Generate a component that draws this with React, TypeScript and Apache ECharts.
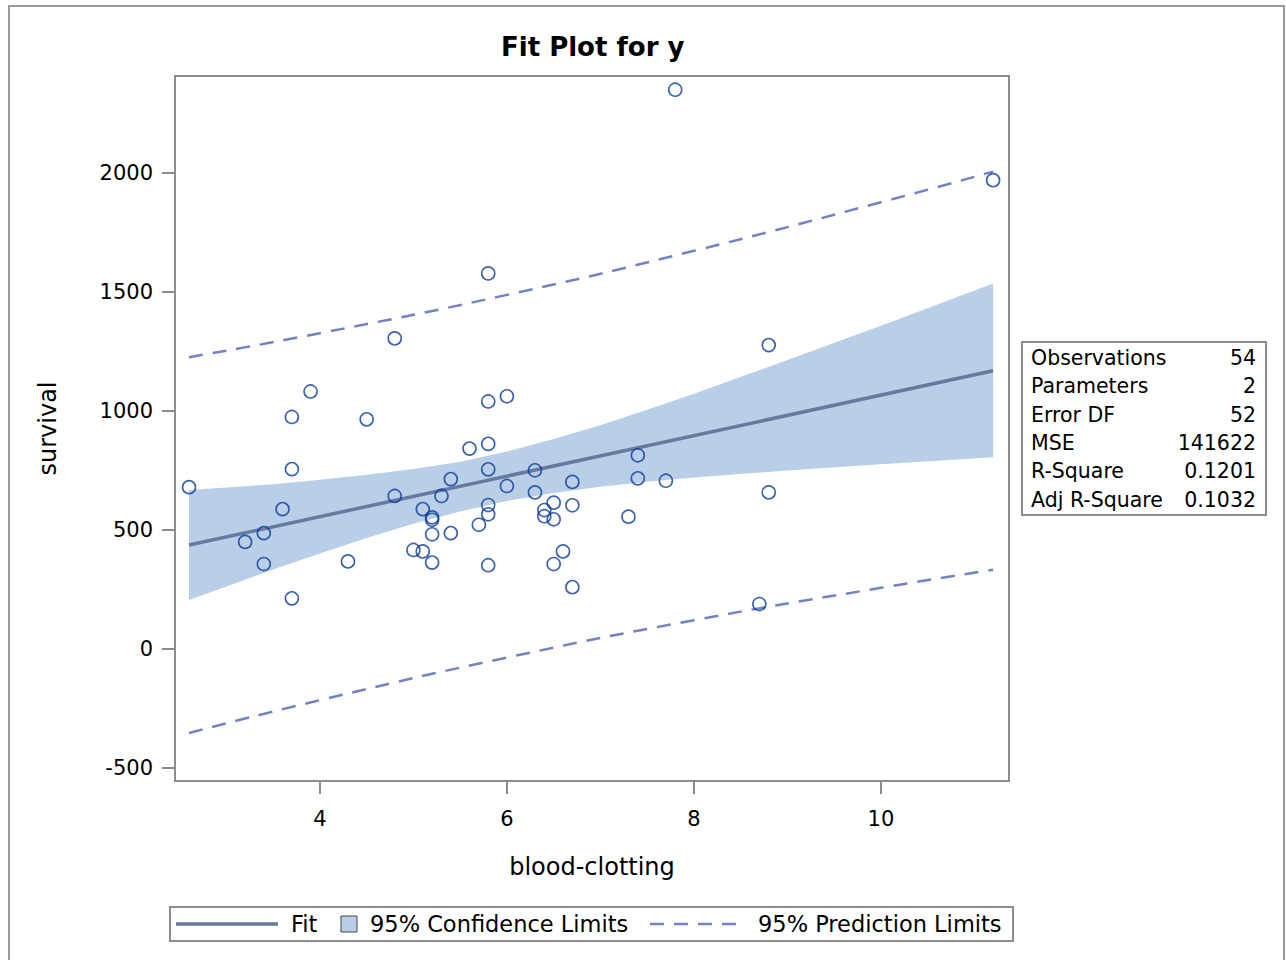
import React, { useEffect, useRef } from "react";
import * as echarts from "echarts";

// Observations (blood-clotting score, survival time)
const clotting = [
  2.6, 3.2, 3.4, 3.4, 3.6, 3.7, 3.7, 3.7, 3.9, 4.3, 4.5, 4.8, 4.8, 5.0, 5.1, 5.1, 5.2, 5.2,
  5.2, 5.2, 5.3, 5.4, 5.4, 5.6, 5.7, 5.8, 5.8, 5.8, 5.8, 5.8, 5.8, 5.8, 6.0, 6.0, 6.3, 6.3,
  6.4, 6.4, 6.5, 6.5, 6.5, 6.6, 6.7, 6.7, 6.7, 7.3, 7.4, 7.4, 7.7, 7.8, 8.7, 8.8, 8.8, 11.2,
];
const survival = [
  680, 450, 487, 357, 588, 975, 756, 213, 1082, 368, 965, 1305, 643, 416, 588, 410, 553, 543,
  482, 363, 643, 487, 714, 842, 522, 1578, 1040, 862, 755, 605, 566, 352, 1062, 685, 751, 658,
  584, 558, 615, 545, 357, 410, 702, 604, 260, 556, 814, 717, 707, 2350, 189, 1277, 658, 1970,
];

// Fit line end points
const fitX = [2.6, 11.2];
const fitY = [437, 1169];

// 95% confidence band
const bandX = [2.6, 3, 3.5, 4, 4.5, 5, 5.5, 6, 6.5, 7, 7.5, 8, 9, 10, 11.2];
const clLower = [206, 263, 334, 401, 466, 526, 578, 622, 656, 682, 703, 721, 750, 776, 806];
const clUpper = [668, 679, 692, 711, 732, 756, 787, 830, 882, 940, 1005, 1073, 1214, 1358, 1536];

// 95% prediction limits
const plX = [2.6, 4, 6, 8, 10, 11.2];
const plLower = [-353, -215, -36, 121, 257, 333];
const plUpper = [1226, 1327, 1488, 1673, 1877, 2006];

const xTicks = [4, 6, 8, 10];
const yTicks = [-500, 0, 500, 1000, 1500, 2000];

const statLabels = ["Observations", "Parameters", "Error DF", "MSE", "R-Square", "Adj R-Square"];
const statValues = ["54", "2", "52", "141622", "0.1201", "0.1032"];

const legendNames = ["Fit", "95% Confidence Limits", "95% Prediction Limits"];

export default function App() {
  const ref = useRef<HTMLDivElement>(null);

  useEffect(() => {
    if (!ref.current) return;
    const chart = echarts.init(ref.current, null, { renderer: "svg" });
    const FONT = "DejaVu Sans";
    const GREY = "#8c8c8c";
    const BAND = "#b9cfe7";
    const FIT = "#66799f";
    const PL = "#7382c7";
    const MARK = "#0a3a9e";

    const txt = (text: string, x: number, y: number, size: number, align = "left") => ({
      type: "text",
      x,
      y,
      silent: true,
      style: {
        text,
        fontSize: size,
        fontFamily: FONT,
        fill: "#000",
        align,
        textAlign: align,
        verticalAlign: "middle",
        textVerticalAlign: "middle",
      },
    });

    const graphics: any[] = [
      {
        type: "rect",
        silent: true,
        z: -10,
        shape: { x: 9, y: 6, width: 1275, height: 1000 },
        style: { fill: "none", stroke: "#9a9a9a", lineWidth: 2 },
      },
      {
        type: "rect",
        silent: true,
        shape: { x: 1022, y: 342, width: 244, height: 173 },
        style: { fill: "#fff", stroke: GREY, lineWidth: 2 },
      },
    ];
    statLabels.forEach((l, i) => {
      graphics.push(txt(l, 1031, 358 + i * 28.3, 20.5, "left"));
      graphics.push(txt(statValues[i], 1256, 358 + i * 28.3, 20.5, "right"));
    });
    graphics.push({
      type: "rect",
      silent: true,
      shape: { x: 170, y: 907, width: 843, height: 34 },
      style: { fill: "#fff", stroke: GREY, lineWidth: 2 },
    });
    graphics.push({
      type: "line",
      silent: true,
      shape: { x1: 176, y1: 924, x2: 278, y2: 924 },
      style: { stroke: FIT, lineWidth: 3.5 },
    });
    graphics.push(txt(legendNames[0], 291, 924, 22.5));
    graphics.push({
      type: "rect",
      silent: true,
      shape: { x: 341, y: 916, width: 16, height: 16 },
      style: { fill: BAND, stroke: "#444", lineWidth: 1 },
    });
    graphics.push(txt(legendNames[1], 370, 924, 22.5));
    graphics.push({
      type: "line",
      silent: true,
      shape: { x1: 650, y1: 924, x2: 742, y2: 924 },
      style: { stroke: PL, lineWidth: 2.5, lineDash: [14, 10] },
    });
    graphics.push(txt(legendNames[2], 758, 924, 22.5));

    const bandData = bandX.map((x, i) => [x, clLower[i], clUpper[i]]);

    const option: any = {
      animation: false,
      backgroundColor: "#fff",
      textStyle: { fontFamily: FONT },
      title: {
        text: "Fit Plot for y",
        left: 496,
        top: 29,
        textStyle: { fontSize: 26, fontWeight: "bold", color: "#000", fontFamily: FONT },
      },
      grid: {
        left: 175,
        top: 76,
        width: 834,
        height: 705,
        show: true,
        borderColor: GREY,
        borderWidth: 2,
        backgroundColor: "#fff",
      },
      xAxis: {
        type: "value",
        min: 2.45,
        max: 11.37,
        name: "blood-clotting",
        nameLocation: "middle",
        nameGap: 74,
        nameTextStyle: { fontSize: 24, color: "#000", fontFamily: FONT },
        axisLine: { show: false, onZero: false },
        splitLine: { show: false },
        axisTick: { show: true, customValues: xTicks, length: 13, lineStyle: { color: GREY, width: 2 } },
        axisLabel: {
          customValues: xTicks,
          fontSize: 21,
          color: "#000",
          margin: 27,
          fontFamily: FONT,
          formatter: (v: number) => String(v),
        },
      },
      yAxis: {
        type: "value",
        min: -554.6,
        max: 2407.6,
        name: "survival",
        nameLocation: "middle",
        nameGap: 115,
        nameTextStyle: { fontSize: 24, color: "#000", fontFamily: FONT },
        axisLine: { show: false, onZero: false },
        splitLine: { show: false },
        axisTick: { show: true, customValues: yTicks, length: 13, lineStyle: { color: GREY, width: 2 } },
        axisLabel: {
          customValues: yTicks,
          fontSize: 21,
          color: "#000",
          margin: 22,
          fontFamily: FONT,
          formatter: (v: number) => String(v),
        },
      },
      series: [
        {
          type: "custom",
          name: legendNames[1],
          data: bandData,
          encode: { x: 0, y: [1, 2] },
          silent: true,
          z: 1,
          renderItem: (params: any, api: any) => {
            if (params.dataIndex !== 0) return null;
            const upper = bandData.map((d) => api.coord([d[0], d[2]]));
            const lower = bandData
              .slice()
              .reverse()
              .map((d) => api.coord([d[0], d[1]]));
            return {
              type: "polygon",
              shape: { points: upper.concat(lower) },
              style: { fill: BAND, stroke: "none" },
            };
          },
        },
        {
          type: "line",
          name: legendNames[2],
          data: plX.map((x, i) => [x, plUpper[i]]),
          symbol: "none",
          smooth: true,
          lineStyle: { color: PL, width: 2.5, type: [14, 10] },
          z: 2,
        },
        {
          type: "line",
          name: legendNames[2] + " (lower)",
          data: plX.map((x, i) => [x, plLower[i]]),
          symbol: "none",
          smooth: true,
          lineStyle: { color: PL, width: 2.5, type: [14, 10] },
          z: 2,
        },
        {
          type: "line",
          name: legendNames[0],
          data: fitX.map((x, i) => [x, fitY[i]]),
          symbol: "none",
          lineStyle: { color: FIT, width: 3.5 },
          z: 3,
        },
        {
          type: "scatter",
          name: "survival",
          data: clotting.map((x, i) => [x, survival[i]]),
          symbol: "circle",
          symbolSize: 13,
          itemStyle: { color: "rgba(0,0,0,0)", borderColor: MARK, borderWidth: 1.6 },
          z: 4,
        },
      ],
      graphic: graphics,
    };
    chart.setOption(option);
    return () => chart.dispose();
  }, []);

  return (
    <div
      ref={ref}
      style={{ position: "fixed", left: 0, top: 0, width: 1286, height: 960, background: "#fff" }}
    />
  );
}
